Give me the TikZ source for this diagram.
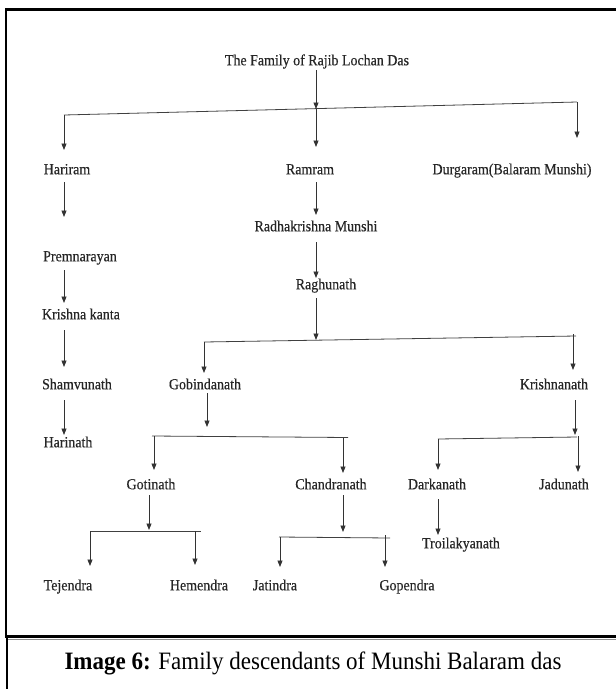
\documentclass[tikz,border=0pt]{standalone}
\usepackage{fontspec}
\setmainfont{Liberation Serif}
\newfontfamily\personfont[FakeStretch=0.9,FakeBold=0.35]{Liberation Serif}
\newfontfamily\captionfont[FakeStretch=0.92]{Liberation Serif}
\usetikzlibrary{arrows.meta}
\tikzset{
  person/.style={font=\personfont\fontsize{15.5}{15.5}\selectfont, text=black!85, inner sep=0pt, anchor=mid},
  arr/.style={-{Triangle[length=6.5pt,width=5pt]}, line width=0.8pt, draw=black!80},
  bus/.style={line width=0.8pt, draw=black!75},
  frameline/.style={line width=2.6pt, draw=black},
}
\begin{document}
\begin{tikzpicture}[x=1pt,y=-1pt]
\useasboundingbox (0,0) rectangle (616,689);
% frame
\draw[frameline] (620,9.5) -- (6,9.5) -- (6,636.5) -- (620,636.5);
\draw[line width=0.8pt, draw=black!45] (7,639.5) -- (620,639.5);
\draw[line width=1.1pt, draw=black] (7,638) -- (7,690);

% people
\node[person] (title) at (317,63) {The Family of Rajib Lochan Das};
\node[person] (hariram) at (67,172) {Hariram};
\node[person] (ramram) at (310,172) {Ramram};
\node[person] (durgaram) at (512,172) {Durgaram(Balaram Munshi)};
\node[person] (premnarayan) at (80,259) {Premnarayan};
\node[person] (krishnakanta) at (81,317) {Krishna kanta};
\node[person] (shamvunath) at (77,387) {Shamvunath};
\node[person] (harinath) at (68,445) {Harinath};
\node[person] (radhakrishna) at (316,229) {Radhakrishna Munshi};
\node[person] (raghunath) at (326,287) {Raghunath};
\node[person] (gobindanath) at (205,387) {Gobindanath};
\node[person] (krishnanath) at (554,387) {Krishnanath};
\node[person] (gotinath) at (151,487) {Gotinath};
\node[person] (chandranath) at (331,487) {Chandranath};
\node[person] (darkanath) at (437,487) {Darkanath};
\node[person] (jadunath) at (564,487) {Jadunath};
\node[person] (troilakyanath) at (461,546) {Troilakyanath};
\node[person] (tejendra) at (68,588) {Tejendra};
\node[person] (hemendra) at (199,588) {Hemendra};
\node[person] (jatindra) at (275,588) {Jatindra};
\node[person] (gopendra) at (407,588) {Gopendra};
\node[inner sep=0pt, anchor=mid] (caption) at (313,667)
  {\captionfont\fontsize{25}{25}\selectfont\textbf{Image 6:} Family descendants of Munshi Balaram das};

% coordinates
\coordinate (t0) at (316,70);
\coordinate (b1l) at (64,115);
\coordinate (b1m) at (316,109);
\coordinate (b1r) at (577,102);
\coordinate (h0) at (64,182);  \coordinate (h1) at (64,217);
\coordinate (p0) at (64,270);  \coordinate (p1) at (64,303);
\coordinate (k0) at (64,330);  \coordinate (k1) at (64,367);
\coordinate (s0) at (64,400);  \coordinate (s1) at (64,435);
\coordinate (r0) at (316,182); \coordinate (r1) at (316,215);
\coordinate (rk0) at (316,242); \coordinate (rk1) at (316,278);
\coordinate (rg0) at (316,298); \coordinate (b2m) at (316,340);
\coordinate (b2l) at (204,342); \coordinate (b2r) at (576,336);
\coordinate (b2ra) at (573,334);
\coordinate (g0) at (207,393); \coordinate (g1) at (207,427);
\coordinate (b3l) at (152,436); \coordinate (b3r) at (348,437.5);
\coordinate (b3la) at (154,436); \coordinate (b3ra) at (343,437.5);
\coordinate (kn0) at (575,400); \coordinate (kn1) at (575,435);
\coordinate (b4l) at (438,439); \coordinate (b4r) at (577,437);
\coordinate (b4ra) at (578,436);
\coordinate (go0) at (149,495); \coordinate (go1) at (149,530);
\coordinate (b5l) at (90,531); \coordinate (b5r) at (201,531);
\coordinate (b5ra) at (195,531);
\coordinate (c0) at (343,495); \coordinate (c1) at (343,532);
\coordinate (b6l) at (279,537); \coordinate (b6r) at (390,538);
\coordinate (b6la) at (280,537); \coordinate (b6ra) at (385,535);
\coordinate (d0) at (438,499); \coordinate (d1) at (438,535);

% connectors
\draw[arr] (t0) -- (b1m);
\draw[bus] (b1l) -- (b1r);
\draw[arr] (b1l) -- (64,150);
\draw[arr] (b1m) -- (316,147);
\draw[arr] (b1r) -- (577,138);
\draw[arr] (h0) -- (h1);
\draw[arr] (p0) -- (p1);
\draw[arr] (k0) -- (k1);
\draw[arr] (s0) -- (s1);
\draw[arr] (r0) -- (r1);
\draw[arr] (rk0) -- (rk1);
\draw[arr] (rg0) -- (b2m);
\draw[bus] (b2l) -- (b2r);
\draw[arr] (b2l) -- (204,373);
\draw[arr] (b2ra) -- (573,370);
\draw[arr] (g0) -- (g1);
\draw[bus] (b3l) -- (b3r);
\draw[arr] (b3la) -- (154,470);
\draw[arr] (b3ra) -- (343,473);
\draw[arr] (kn0) -- (kn1);
\draw[bus] (b4l) -- (b4r);
\draw[arr] (b4l) -- (438,470);
\draw[arr] (b4ra) -- (578,472);
\draw[arr] (go0) -- (go1);
\draw[bus] (b5l) -- (b5r);
\draw[arr] (b5l) -- (90,566);
\draw[arr] (b5ra) -- (195,565);
\draw[arr] (c0) -- (c1);
\draw[bus] (b6l) -- (b6r);
\draw[arr] (b6la) -- (280,567);
\draw[arr] (b6ra) -- (385,567);
\draw[arr] (d0) -- (d1);
\end{tikzpicture}
\end{document}
